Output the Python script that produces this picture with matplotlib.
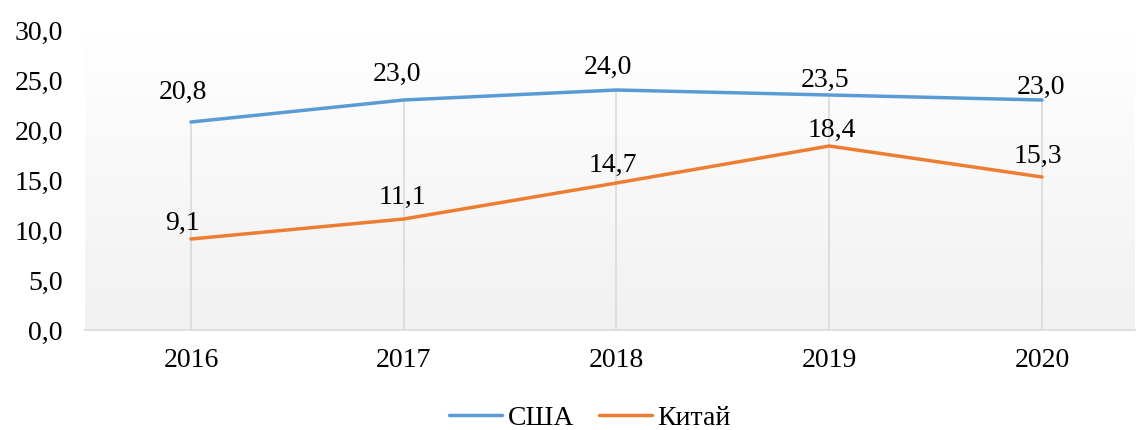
import matplotlib.pyplot as plt
import numpy as np
from matplotlib.colors import LinearSegmentedColormap

years = ["2016", "2017", "2018", "2019", "2020"]
usa = [20.8, 23.0, 24.0, 23.5, 23.0]
china = [9.1, 11.1, 14.7, 18.4, 15.3]
y_ticks = [0, 5, 10, 15, 20, 25, 30]

# сдвиги подписей данных (пиксели: по x, вверх от точки до базовой линии)
usa_lbl_off = [(-8, 23), (-7, 19), (-9, 16), (-4, 8), (-1, 6)]
china_lbl_off = [(-8, 9), (-1, 15), (-4, 11), (3, 9), (-4, 14)]

plt.rcParams['font.family'] = ['Liberation Serif', 'DejaVu Serif']

fig = plt.figure(figsize=(11.37, 4.30), dpi=100)
ax = fig.add_axes([85 / 1137, 100 / 430, 1050 / 1137, 300 / 430])

x = np.arange(len(years))
x_lo, x_hi = -0.498, 4.437

# градиентный фон
cmap = LinearSegmentedColormap.from_list("bg", ["#f1f1f1", "#ffffff"])
grad = np.linspace(0, 1, 256).reshape(-1, 1)
ax.imshow(grad, cmap=cmap, aspect='auto', origin='lower',
          extent=[x_lo, x_hi, 0, 30], zorder=0)

# линии проекции
tops = [max(a, b) for a, b in zip(usa, china)]
ax.vlines(x, 0, tops, color="#d9d9d9", lw=1.2, zorder=1)

ax.plot(x, usa, color="#5b9bd5", lw=2.5, solid_capstyle='round', label="США", zorder=3)
ax.plot(x, china, color="#ed7d31", lw=2.5, solid_capstyle='round', label="Китай", zorder=3)

px = 0.72  # пунктов на пиксель при dpi=100
for xi, v, (dx, dy) in zip(x, usa, usa_lbl_off):
    ax.annotate(f"{v:.1f}".replace(".", ","), (xi, v), xytext=(dx * px, dy * px),
                textcoords="offset points", ha="center", va="baseline", fontsize=20)
for xi, v, (dx, dy) in zip(x, china, china_lbl_off):
    ax.annotate(f"{v:.1f}".replace(".", ","), (xi, v), xytext=(dx * px, dy * px),
                textcoords="offset points", ha="center", va="baseline", fontsize=20)

ax.set_xlim(x_lo, x_hi)
ax.set_ylim(0, 30)
ax.set_xticks(x)
ax.set_xticklabels(years, fontsize=20)
ax.set_yticks(y_ticks)
ax.set_yticklabels([f"{t:.1f}".replace(".", ",") for t in y_ticks], fontsize=20)
ax.tick_params(axis='x', length=0, pad=13)
ax.tick_params(axis='y', length=0, pad=16)

for s in ["top", "right", "left"]:
    ax.spines[s].set_visible(False)
ax.spines["bottom"].set_color("#d9d9d9")
ax.spines["bottom"].set_linewidth(1.2)

leg = fig.legend(loc="center", bbox_to_anchor=(0.519, 0.028), ncol=2, frameon=False,
                 fontsize=20, handlelength=1.9, handletextpad=0.2, columnspacing=0.9)
for line in leg.get_lines():
    line.set_linewidth(2.5)

fig.savefig("out.png", dpi=100)
